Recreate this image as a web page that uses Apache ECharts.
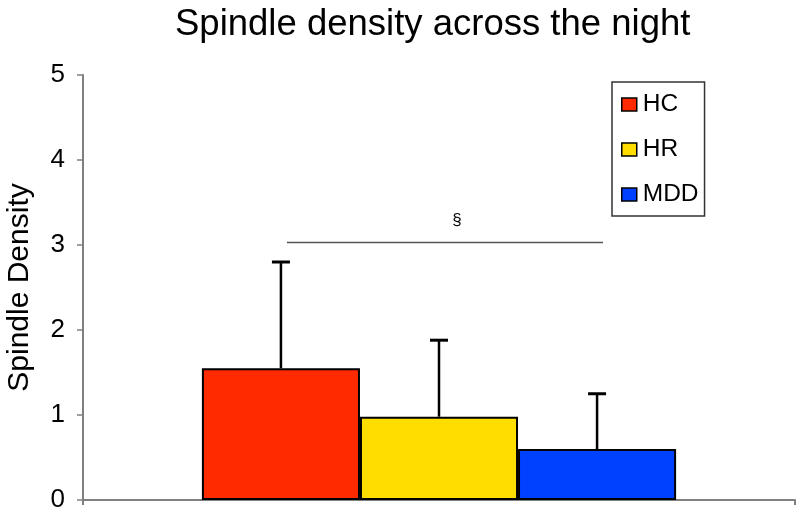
<!DOCTYPE html>
<html>
<head>
<meta charset="utf-8">
<script src="https://cdn.jsdelivr.net/npm/echarts@6/dist/echarts.min.js"></script>
<style>html,body{margin:0;padding:0;background:#fff;}#c{width:800px;height:514px;}</style>
</head>
<body>
<div id="c"></div>
<script>
const groups = ['HC', 'HR', 'MDD'];
const means = [1.55, 0.98, 0.60];
const upperErr = [2.80, 1.88, 1.25];
const colors = ['#ff2a00', '#ffdd00', '#0040ff'];
const yTicks = [0, 1, 2, 3, 4, 5];
const sigLevel = 3.03;
const sigFrom = 0, sigTo = 2;
const sigMark = '§';
const catGap = 0.334;

const chart = echarts.init(document.getElementById('c'));

function barCenter(api, idx) {
  const band = api.size([1, 0])[0];
  const w = band * (1 - catGap) / groups.length;
  return api.coord([0, 0])[0] + (idx - (groups.length - 1) / 2) * w;
}

const barSeries = groups.map((g, i) => ({
  name: g,
  type: 'bar',
  data: [means[i]],
  barGap: '0%',
  barCategoryGap: (catGap * 100) + '%',
  itemStyle: { color: colors[i], borderColor: '#000', borderWidth: 2 },
  z: 2
}));

const errData = groups.map((g, i) => [0, means[i], upperErr[i], i]);

const option = {
  animation: false,
  title: {
    text: 'Spindle density across the night',
    left: 170, top: 1,
    textStyle: { fontFamily: 'Liberation Sans, Arial', fontSize: 36.5, fontWeight: 'normal', color: '#000' }
  },
  legend: {
    data: groups,
    orient: 'vertical',
    left: 612, top: 82,
    padding: [10, 6, 9, 9],
    itemGap: 20,
    itemWidth: 15, itemHeight: 13,
    borderColor: '#333', borderWidth: 1.5,
    icon: 'rect',
    itemStyle: { borderColor: '#000', borderWidth: 1.5 },
    textStyle: { fontFamily: 'Liberation Sans, Arial', fontSize: 24.5, color: '#000', padding: [0, 0, 0, 1] }
  },
  grid: { left: 83, right: 5, top: 75, bottom: 14, containLabel: false, outerBoundsMode: 'none' },
  xAxis: {
    type: 'category',
    data: [''],
    axisLine: { lineStyle: { color: '#808080', width: 2 } },
    axisTick: { show: true, inside: false, length: 5, lineStyle: { color: '#808080', width: 2 } },
    axisLabel: { show: false },
    splitLine: { show: false }
  },
  yAxis: {
    type: 'value',
    min: yTicks[0], max: yTicks[yTicks.length - 1], interval: 1,
    name: 'Spindle Density',
    nameLocation: 'middle',
    nameGap: 48,
    nameTextStyle: { fontFamily: 'Liberation Sans, Arial', fontSize: 30, color: '#000' },
    axisLine: { show: true, lineStyle: { color: '#808080', width: 2 } },
    axisTick: { show: true, length: 6, lineStyle: { color: '#808080', width: 1.5 } },
    axisLabel: { fontFamily: 'Liberation Sans, Arial', fontSize: 26, color: '#000', margin: 18 },
    splitLine: { show: false }
  },
  series: barSeries.concat([
    {
      type: 'custom',
      name: 'err',
      data: errData,
      encode: { x: 0, y: [1, 2] },
      z: 3,
      renderItem: function (params, api) {
        const idx = api.value(3);
        const cx = barCenter(api, idx);
        const yb = api.coord([0, api.value(1)])[1];
        const yt = api.coord([0, api.value(2)])[1];
        const cap = 9;
        return {
          type: 'group',
          children: [
            { type: 'line', shape: { x1: cx, y1: yb, x2: cx, y2: yt }, style: { stroke: '#000', lineWidth: 2.5 } },
            { type: 'line', shape: { x1: cx - cap, y1: yt, x2: cx + cap, y2: yt }, style: { stroke: '#000', lineWidth: 3 } }
          ]
        };
      }
    },
    {
      type: 'custom',
      name: 'sig',
      data: [[0, sigLevel]],
      encode: { x: 0, y: 1 },
      z: 3,
      renderItem: function (params, api) {
        const x1 = barCenter(api, sigFrom) + 6;
        const x2 = barCenter(api, sigTo) + 6;
        const y = api.coord([0, api.value(1)])[1];
        return {
          type: 'group',
          children: [
            { type: 'line', shape: { x1: x1, y1: y, x2: x2, y2: y }, style: { stroke: '#555', lineWidth: 1.5 } },
            { type: 'text', style: { text: sigMark, x: barCenter(api, 1) + 18, y: y - 22, align: 'center', verticalAlign: 'middle', fontSize: 17, fontFamily: 'Liberation Sans, Arial', fill: '#000' } }
          ]
        };
      }
    }
  ])
};

chart.setOption(option);
</script>
</body>
</html>
